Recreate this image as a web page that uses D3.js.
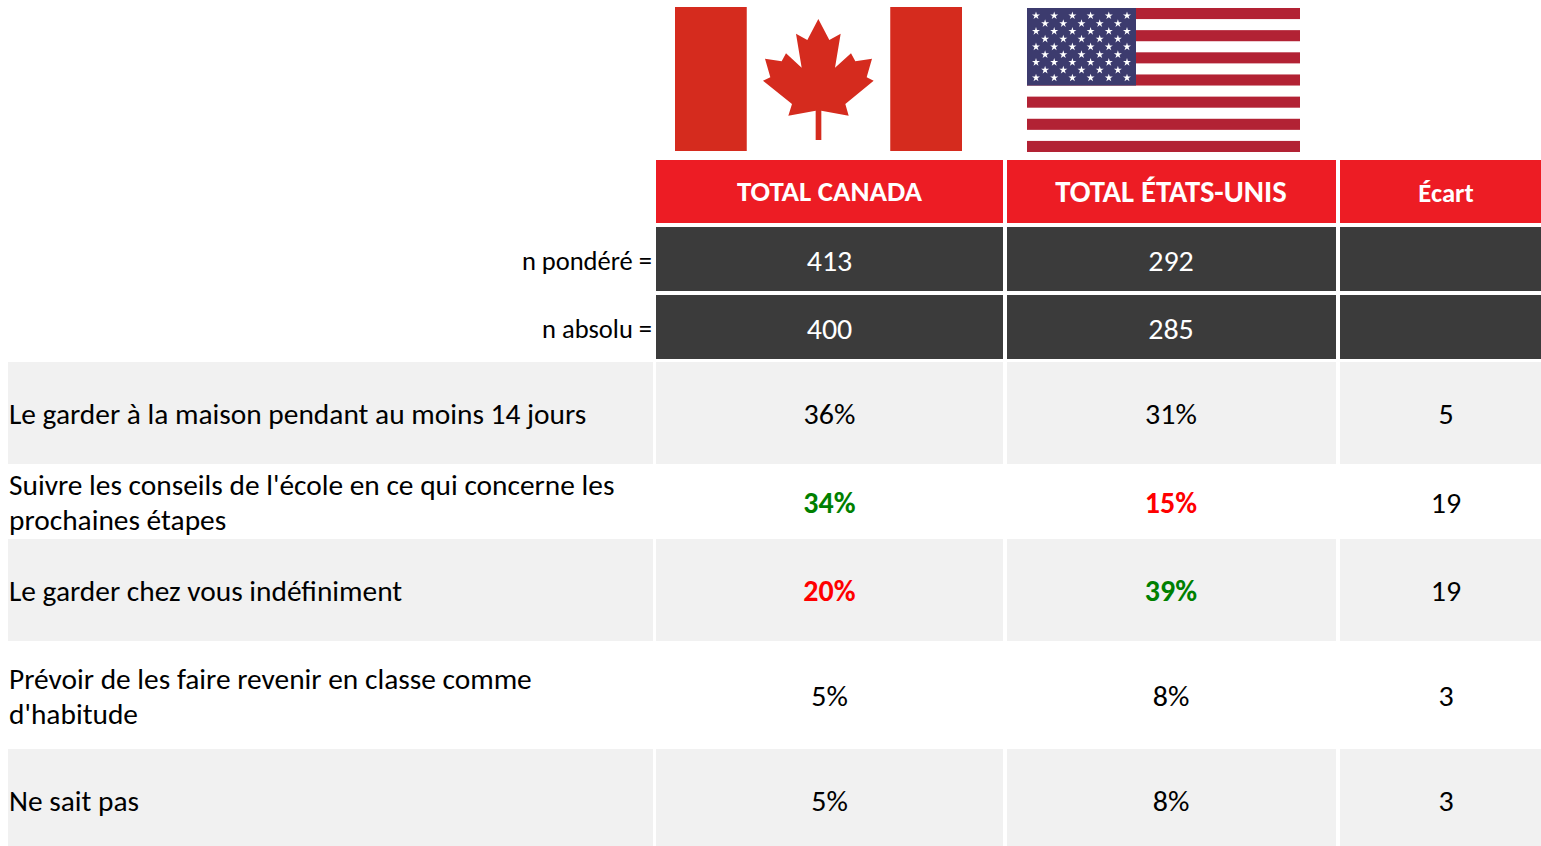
<html>

<head>
<style>
    html, body {
        margin: 0;
        padding: 0;
        background: #FFFFFF;
        overflow: hidden;
    }

    text {
        font-family: Carlito, Lato, sans-serif;
    }
</style>
<script src="https://d3js.org/d3.v7.min.js"></script>
</head>

<body>
<svg id="Table"></svg>
</body>

<script>

// table content
let columns = ["TOTAL CANADA", "TOTAL ÉTATS-UNIS", "Écart"]
let sampleLabels = ["n pondéré =", "n absolu ="]
let sampleCanada = [413, 400]
let sampleUS = [292, 285]
let rowLabels = [
    ["Le garder à la maison pendant au moins 14 jours"],
    ["Suivre les conseils de l'école en ce qui concerne les", "prochaines étapes"],
    ["Le garder chez vous indéfiniment"],
    ["Prévoir de les faire revenir en classe comme", "d'habitude"],
    ["Ne sait pas"]
]
let canada = [36, 34, 20, 5, 5]
let us = [31, 15, 39, 8, 8]
let ecart = [5, 19, 19, 3, 3]
// +1 = significantly higher (green), -1 = significantly lower (red)
let canadaFlag = [0, 1, -1, 0, 0]
let usFlag = [0, -1, 1, 0, 0]

// layout of the grid
let colLeft = [656, 1007, 1340]
let colRight = [1003, 1336, 1541]
let colText = [829.5, 1171, 1446]
let headTop = [160, 227, 295]
let headBottom = [223, 291, 359]
let rowTop = [362, 465, 539, 642, 749]
let rowBottom = [464, 539, 641, 748, 846]
let rowBaseline = [424.3, 512.8, 601, 706, 811]
let sampleLabelBaseline = [270, 338]

let svg = d3.select("#Table").attr("width", 1541).attr("height", 846)

function fit(sel, stretch) {
    sel.each(function() {
        let w = this.getComputedTextLength()
        d3.select(this)
            .attr("textLength", w * stretch)
            .attr("lengthAdjust", "spacingAndGlyphs")
    })
}

function addText(x, y, str, opts) {
    let o = opts || {}
    return svg.append("text")
        .attr("x", x)
        .attr("y", y)
        .attr("text-anchor", o.anchor || "middle")
        .attr("font-size", o.size || 29.4)
        .attr("font-weight", o.weight || "normal")
        .attr("fill", o.color || "#000000")
        .text(str)
        .call(fit, o.stretch || 1)
}

function drawCanadaFlag() {
    let g = svg.append("g")
    let x = d3.scaleLinear().domain([0, 4]).range([675, 962])
    g.selectAll("rect").data([[0, 1], [3, 4]])
        .enter().append("rect")
        .attr("x", d => x(d[0]))
        .attr("y", 7)
        .attr("width", d => x(d[1]) - x(d[0]))
        .attr("height", 144)
        .attr("fill", "#D52B1E")

    let leaf = [[475,57],[508,120],[542,101],[525,203],[573,160],[586,184],[636,176],[620,232],[641,242],
        [556,312],[566,347],[484,332],[484,420],[467,420],[467,332],[385,347],[396,312],[309,242],
        [331,232],[315,176],[365,184],[378,160],[425,203],[408,101],[442,120]]
    g.append("path")
        .attr("d", d3.line().x(d => 660 + d[0] / 3).y(d => d[1] / 3).curve(d3.curveLinearClosed)(leaf))
        .attr("fill", "#D52B1E")
}

function drawUSFlag() {
    let g = svg.append("g")
    let y = d3.scaleBand().domain(d3.range(13)).range([8, 152])
    g.selectAll("rect.stripe").data(d3.range(13).filter(i => i % 2 == 0))
        .enter().append("rect")
        .attr("class", "stripe")
        .attr("x", 1027)
        .attr("y", d => y(d))
        .attr("width", 273)
        .attr("height", y.bandwidth())
        .attr("fill", "#B22234")
    g.append("rect")
        .attr("x", 1027).attr("y", 8)
        .attr("width", 109).attr("height", y(7) - 8)
        .attr("fill", "#3C3B6E")

    let stars = []
    d3.range(9).forEach(r => {
        d3.range(r % 2 == 0 ? 6 : 5).forEach(c => {
            stars.push([1036 + c * 18.2 + (r % 2 == 0 ? 0 : 9.1), 15.7 + r * 7.77])
        })
    })
    g.selectAll("path").data(stars)
        .enter().append("path")
        .attr("d", d3.symbol().type(d3.symbolStar).size(20))
        .attr("transform", d => `translate(${d[0]},${d[1]})`)
        .attr("fill", "#FFFFFF")
}

function drawHeader() {
    let headStretch = [1.0, 1.04, 1.0]
    let headSize = [28.9, 29.5, 26.6]
    let headBase = [201, 202, 201.5]
    columns.forEach((c, i) => {
        svg.append("rect")
            .attr("x", colLeft[i]).attr("y", headTop[0])
            .attr("width", colRight[i] - colLeft[i])
            .attr("height", headBottom[0] - headTop[0])
            .attr("fill", "#ED1C24")
        addText(colText[i], headBase[i], c, {weight: "bold", color: "#FFFFFF", size: headSize[i], stretch: headStretch[i]})
    })

    sampleLabels.forEach((label, r) => {
        let values = [sampleCanada[r], sampleUS[r], ""]
        columns.forEach((c, i) => {
            svg.append("rect")
                .attr("x", colLeft[i]).attr("y", headTop[r + 1])
                .attr("width", colRight[i] - colLeft[i])
                .attr("height", headBottom[r + 1] - headTop[r + 1])
                .attr("fill", "#3B3B3B")
            if (values[i] !== "") {
                addText(colText[i], sampleLabelBaseline[r] + 0.5, values[i], {color: "#FFFFFF", stretch: 1.02})
            }
        })
        addText(652, sampleLabelBaseline[r], label, {anchor: "end", size: 26.5})
    })
}

function drawRows() {
    let flagColor = f => f > 0 ? "#008000" : "#FF0000"
    rowLabels.forEach((lines, r) => {
        let top = rowTop[r]
        let bottom = rowBottom[r]
        let base = rowBaseline[r]
        if (r % 2 == 0) {
            [[8, 653]].concat(colLeft.map((l, i) => [l, colRight[i]])).forEach(d => {
                svg.append("rect")
                    .attr("x", d[0]).attr("y", top)
                    .attr("width", d[1] - d[0]).attr("height", bottom - top)
                    .attr("fill", "#F1F1F1")
            })
        }
        lines.forEach((line, k) => {
            addText(9, base + (k - (lines.length - 1) / 2) * 35, line, {anchor: "start"})
        })
        let cells = [
            [canada[r] + "%", canadaFlag[r]],
            [us[r] + "%", usFlag[r]],
            [ecart[r], 0]
        ]
        cells.forEach((cell, i) => {
            let o = cell[1] == 0 ? {stretch: 1.02} : {weight: "bold", color: flagColor(cell[1]), stretch: 1.02}
            addText(colText[i], base, cell[0], o)
        })
    })
}

drawCanadaFlag()
drawUSFlag()
drawHeader()
drawRows()

</script>

</html>
